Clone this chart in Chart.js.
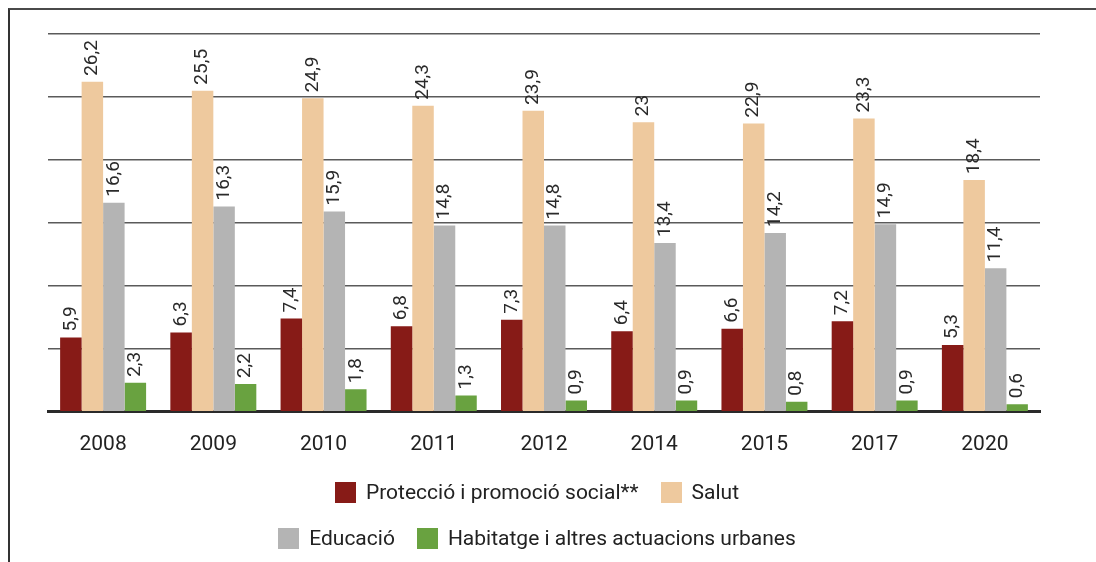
<!DOCTYPE html>
<html>
<head>
<meta charset="utf-8">
<script src="https://cdn.jsdelivr.net/npm/chart.js@4.4.1/dist/chart.umd.min.js"></script>
<style>
  html, body { margin: 0; padding: 0; background: #fff; }
  #wrap { position: relative; width: 1096px; height: 562px; overflow: hidden; }
  #frame { position: absolute; left: 8px; top: 8px; width: 1100px; height: 600px;
           border-top: 2px solid #4a4a4a; border-left: 2px solid #333; }
  #myChart { position: absolute; left: 0; top: 0; }
  .legendRow { position: absolute; left: 0; width: 1074px; display: flex; justify-content: center;
               font-family: Roboto, sans-serif; font-size: 21px; color: #222; }
  .item { display: flex; align-items: center; margin: 0 11px; }
  .box { width: 21px; height: 21px; margin-right: 10px; }
</style>
</head>
<body>
<div id="wrap">
  <div id="frame"></div>
  <canvas id="myChart" width="1096" height="562"></canvas>
  <div class="legendRow" id="row1" style="top:480px"></div>
  <div class="legendRow" id="row2" style="top:526px"></div>
</div>
<script>
var years = ['2008', '2009', '2010', '2011', '2012', '2014', '2015', '2017', '2020'];
var seriesNames = ['Protecció i promoció social**', 'Salut', 'Educació', 'Habitatge i altres actuacions urbanes'];
var proteccio = [5.9, 6.3, 7.4, 6.8, 7.3, 6.4, 6.6, 7.2, 5.3];
var salut = [26.2, 25.5, 24.9, 24.3, 23.9, 23, 22.9, 23.3, 18.4];
var educacio = [16.6, 16.3, 15.9, 14.8, 14.8, 13.4, 14.2, 14.9, 11.4];
var habitatge = [2.3, 2.2, 1.8, 1.3, 0.9, 0.9, 0.8, 0.9, 0.6];
var colors = ['#871b17', '#eec99e', '#b4b4b4', '#69a240'];

var allSeries = [proteccio, salut, educacio, habitatge];

const data = {
    labels: years,
    datasets: allSeries.map(function(values, i) {
        return {
            label: seriesNames[i],
            data: values,
            backgroundColor: colors[i],
            barPercentage: 1,
            categoryPercentage: 0.78
        };
    })
};

// etiquetes de valor girades sobre cada barra
const valueLabels = {
    id: 'valueLabels',
    afterDatasetsDraw: function(chart) {
        const ctx = chart.ctx;
        ctx.save();
        ctx.font = '19px Roboto, sans-serif';
        ctx.fillStyle = '#2a2a2a';
        ctx.textAlign = 'left';
        ctx.textBaseline = 'middle';
        chart.data.datasets.forEach(function(ds, i) {
            const meta = chart.getDatasetMeta(i);
            meta.data.forEach(function(bar, j) {
                const txt = String(ds.data[j]).replace('.', ',');
                ctx.save();
                ctx.translate(bar.x, bar.y - 6);
                ctx.rotate(-Math.PI / 2);
                ctx.fillText(txt, 0, 0);
                ctx.restore();
            });
        });
        ctx.restore();
    }
};

const options = {
    responsive: false,
    animation: false,
    layout: {
        padding: { left: 48, right: 56, top: 34, bottom: 85 }
    },
    plugins: {
        legend: { display: false },
        tooltip: { enabled: false }
    },
    scales: {
        x: {
            grid: { display: false, drawTicks: false },
            border: { display: true, color: '#2a2a2a', width: 3 },
            ticks: {
                color: '#222',
                padding: 20,
                font: { family: 'Roboto, sans-serif', size: 21 }
            }
        },
        y: {
            min: 0,
            max: 30,
            ticks: { display: false, stepSize: 5 },
            grid: { color: '#5a5a5a', lineWidth: 1.5, drawTicks: false },
            border: { display: false }
        }
    }
};

const ctx = document.getElementById('myChart').getContext('2d');
const myChart = new Chart(ctx, {
    type: 'bar',
    data: data,
    options: options,
    plugins: [valueLabels]
});

// llegenda en dues files, com a l'original
function addItem(rowId, i) {
    const item = document.createElement('div');
    item.className = 'item';
    const box = document.createElement('div');
    box.className = 'box';
    box.style.background = colors[i];
    const txt = document.createElement('span');
    txt.textContent = seriesNames[i];
    item.appendChild(box);
    item.appendChild(txt);
    document.getElementById(rowId).appendChild(item);
}
addItem('row1', 0);
addItem('row1', 1);
addItem('row2', 2);
addItem('row2', 3);
</script>
</body>
</html>
